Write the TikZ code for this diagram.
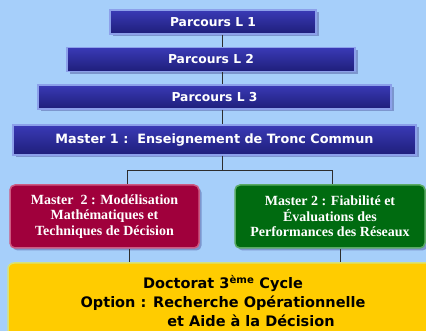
\documentclass[tikz,border=0pt]{standalone}
\usepackage{fontspec}
\setmainfont{Liberation Serif}
\setsansfont{DejaVu Sans}
\usetikzlibrary{positioning,shadows}
\definecolor{sky}{RGB}{166,207,250}
\definecolor{bluetop}{RGB}{58,58,182}
\definecolor{bluemid}{RGB}{40,40,156}
\definecolor{bluebot}{RGB}{30,30,122}
\definecolor{bluehalo}{RGB}{140,160,234}
\definecolor{shade}{RGB}{124,150,206}
\definecolor{crimson}{RGB}{160,0,60}
\definecolor{crimsonhalo}{RGB}{205,90,130}
\definecolor{forest}{RGB}{0,107,16}
\definecolor{foresthalo}{RGB}{90,170,100}
\definecolor{gold}{RGB}{255,204,0}
\definecolor{goldhalo}{RGB}{216,226,120}
\definecolor{wire}{RGB}{45,45,45}

\begin{document}
\begin{tikzpicture}[x=1pt, y=-1pt, node distance=37.5pt,
    level/.style={rectangle, draw=bluehalo, line width=1.5pt, top color=bluetop, middle color=bluemid, bottom color=bluebot, text=white, font=\sffamily\bfseries\fontsize{12.3}{14}\selectfont, inner sep=0pt, minimum height=24pt, drop shadow={shadow xshift=2.5pt, shadow yshift=-2.5pt, fill=shade, opacity=1}},
    master/.style={rectangle, rounded corners=5pt, line width=1.5pt, text=white, align=center, font=\rmfamily\bfseries\fontsize{14}{15.5}\selectfont, inner sep=0pt, minimum height=63pt, drop shadow={shadow xshift=2.5pt, shadow yshift=-2.5pt, fill=shade, opacity=1}},
    doctorat/.style={rectangle, rounded corners=6pt, draw=goldhalo, line width=1.5pt, fill=gold, align=center, font=\sffamily\bfseries\fontsize{14.5}{19}\selectfont, inner sep=0pt, minimum width=430pt, minimum height=76pt},
    link/.style={draw=wire, line width=0.9pt}]

    % Background
    \fill [sky] (0,0) rectangle (426,331);
    \useasboundingbox (0,0) rectangle (426,331);

    % Parcours
    \node [level, minimum width=206pt] (l1) at (213,22) {Parcours L 1};
    \node [level, minimum width=288pt, below of=l1, xshift=-2pt] (l2) {Parcours L 2};
    \node [level, minimum width=353pt, below of=l2, xshift=3.5pt] (l3) {Parcours L 3};

    % Master
    \node [level, minimum width=403pt, minimum height=30pt, below of=l3, node distance=43pt, font=\sffamily\bfseries\fontsize{12.8}{14}\selectfont] (m1) {Master 1 :\ \ Enseignement de Tronc Commun};
    \node [master, draw=crimsonhalo, fill=crimson, minimum width=189pt] (m2a) at (104.5,216.5)
        {Master\ \ 2 : Modélisation\\ Mathématiques et\\ Techniques de Décision};
    \node [master, draw=foresthalo, fill=forest, minimum width=190pt] (m2b) at (330,216.5)
        {Master 2 : Fiabilité et\\ Évaluations des\\ Performances des Réseaux};

    % Doctorat
    \node [doctorat] (doc) at (223,301)
        {Doctorat 3\textsuperscript{ème} Cycle\\ Option : Recherche Opérationnelle\\ \hspace*{56pt}et Aide à la Décision};

    % Connectors
    \coordinate (spine) at (222,0);
    \coordinate (split) at (222,170);
    \coordinate (lfork) at (127,170);
    \coordinate (rfork) at (332,170);
    \coordinate (ldrop) at (129,0);
    \coordinate (rdrop) at (340,0);
    \draw [link] (l1.south -| spine) -- (l2.north -| spine);
    \draw [link] (l2.south -| spine) -- (l3.north -| spine);
    \draw [link] (l3.south -| spine) -- (m1.north -| spine);
    \draw [link] (m1.south -| spine) -- (split);
    \draw [link] (lfork |- m2a.north) -- (lfork) -- (rfork) -- (rfork |- m2b.north);
    \draw [link] (m2a.south -| ldrop) -- (doc.north -| ldrop);
    \draw [link] (m2b.south -| rdrop) -- (doc.north -| rdrop);

\end{tikzpicture}
\end{document}
